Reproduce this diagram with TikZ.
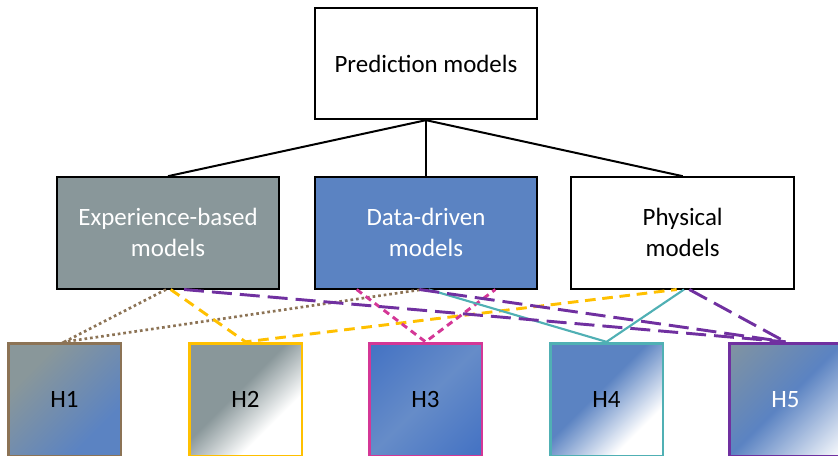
\documentclass[tikz,border=0pt]{standalone}
\usepackage{fontspec}
\setmainfont{Carlito}
\usetikzlibrary{positioning,calc}
\usepackage{xcolor}

\definecolor{expgray}{RGB}{137,151,154}
\definecolor{datablue}{RGB}{91,131,194}
\definecolor{deepblue}{RGB}{70,116,196}
\definecolor{lightblue}{RGB}{102,140,200}
\definecolor{hbrown}{RGB}{140,115,85}
\definecolor{hgold}{RGB}{255,192,0}
\definecolor{hpink}{RGB}{212,55,150}
\definecolor{hteal}{RGB}{80,176,180}
\definecolor{hpurple}{RGB}{112,48,160}

% diagonal fills of the lower boxes
\pgfdeclarehorizontalshading{shadeone}{100bp}{color(0bp)=(expgray); color(30bp)=(expgray); color(70bp)=(datablue); color(100bp)=(datablue)}
\pgfdeclarehorizontalshading{shadetwo}{100bp}{color(0bp)=(expgray); color(45bp)=(expgray); color(66bp)=(white); color(100bp)=(white)}
\pgfdeclarehorizontalshading{shadethree}{100bp}{color(0bp)=(deepblue); color(18bp)=(deepblue); color(50bp)=(lightblue); color(82bp)=(deepblue); color(100bp)=(deepblue)}
\pgfdeclarehorizontalshading{shadefour}{100bp}{color(0bp)=(datablue); color(45bp)=(datablue); color(70bp)=(white); color(100bp)=(white)}
\pgfdeclarehorizontalshading{shadefive}{100bp}{color(0bp)=(expgray); color(16bp)=(expgray!80!datablue); color(50bp)=(datablue); color(86bp)=(white); color(100bp)=(white)}

\begin{document}
\begin{tikzpicture}[x=0.75pt,y=-0.75pt,
    box/.style={draw=black,line width=1.5pt,minimum width=167pt,minimum height=83.5pt,
        align=center,font=\fontsize{18.7}{23.3}\selectfont},
    hbox/.style={line width=2pt,minimum size=84.5pt,shade,shading angle=-45,
        font=\fontsize{18.7}{23.3}\selectfont},
    link/.style={line width=1.5pt},
    browndots/.style={hbrown,line width=2pt,dash pattern=on 2pt off 2.2pt},
    golddash/.style={hgold,line width=2.2pt,dash pattern=on 8pt off 5pt},
    pinkdash/.style={hpink,line width=2.2pt,dash pattern=on 5pt off 3.5pt},
    tealline/.style={hteal,line width=1.6pt},
    purpledash/.style={hpurple,line width=2.2pt,dash pattern=on 15pt off 6pt}]
\path[use as bounding box] (0,0) rectangle (838,455);
\clip (0,0) rectangle (838,455);

\node[box] (pred) at (426,63.5) {Prediction models};
\node[box,fill=datablue,text=white,below=42pt of pred] (data) {Data-driven\\models};
\node[box,fill=expgray,text=white,left=25pt of data] (exp) {Experience-based\\models};
\node[box,right=24pt of data] (phys) {Physical\\models};

\foreach \n/\x/\c/\s/\t in {1/64.5/hbrown/shadeone/black,2/245.5/hgold/shadetwo/black,
    3/425.5/hpink/shadethree/black,4/606.5/hteal/shadefour/black,5/785.5/hpurple/shadefive/white}
    \node[hbox,draw=\c,shading=\s,text=\t] (h\n) at (\x,399.5) {H\n};

\draw[link] (pred.south) -- (exp.north);
\draw[link] (pred.south) -- (data.north);
\draw[link] (pred.south) -- (phys.north);

\draw[browndots] ([xshift=-1.5pt]exp.south) -- (h1.north) -- ([xshift=-3pt]data.south);
\draw[golddash] ([xshift=2pt]exp.south) -- (h2.north) -- ([xshift=-4.5pt]phys.south);
\draw[pinkdash] ([xshift=-52pt]data.south) -- (h3.north) -- ([xshift=52pt]data.south);
\draw[tealline] ([xshift=2pt]data.south) -- (h4.north) -- ([xshift=1pt]phys.south);
\draw[purpledash] ([xshift=12pt]exp.south) -- (h5.north);
\draw[purpledash] ([xshift=-5pt]data.south) -- (h5.north);
\draw[purpledash] ([xshift=5pt]phys.south) -- (h5.north);
\end{tikzpicture}
\end{document}
